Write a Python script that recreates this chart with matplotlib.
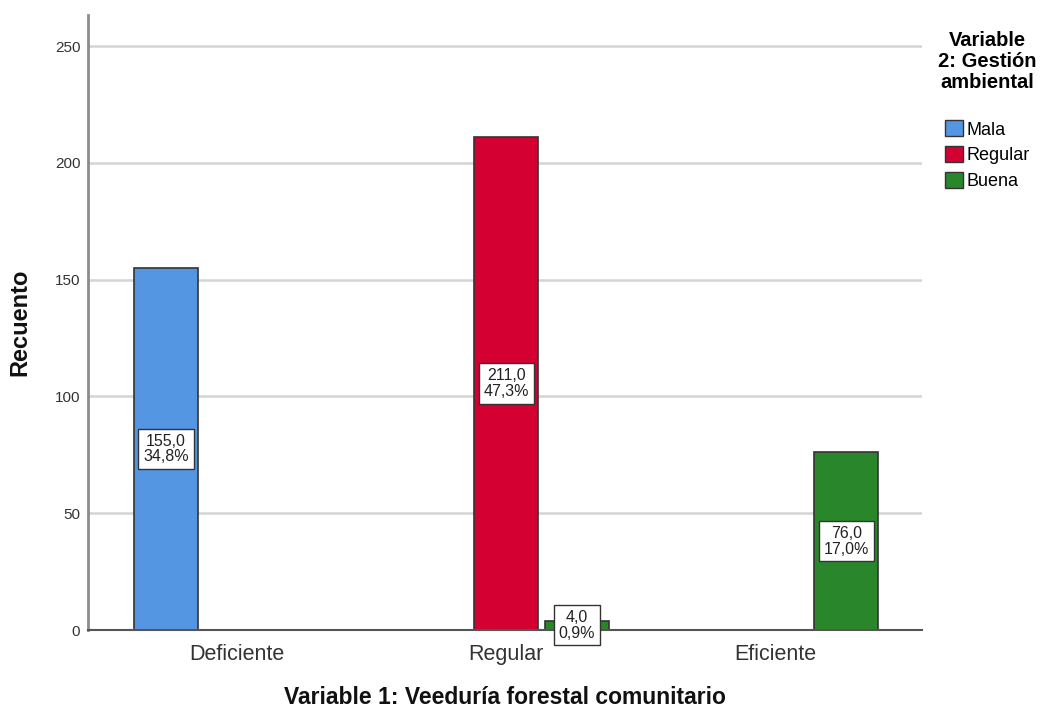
import matplotlib
matplotlib.use("Agg")
import matplotlib.pyplot as plt
import numpy as np

plt.rcParams['font.family'] = ['Liberation Sans', 'DejaVu Sans']

categories = ["Deficiente", "Regular", "Eficiente"]
series = ["Mala", "Regular", "Buena"]
mala = [155, 0, 0]
regular = [0, 211, 0]
buena = [0, 4, 76]
colors = ["#5596e3", "#d50032", "#2a862b"]
yticks = [0, 50, 100, 150, 200, 250]

values = [mala, regular, buena]
total = sum(sum(v) for v in values)

fig = plt.figure(figsize=(10.49, 7.15), dpi=100)
ax = fig.add_axes([88/1049, 85/715, (922-88)/1049, (630-15)/715])

x = np.arange(len(categories))
width = 0.238
offset = 0.264
handles = []
for j, (name, vals, col) in enumerate(zip(series, values, colors)):
    pos = x + (j - 1) * offset
    for p, v in zip(pos, vals):
        if v == 0:
            continue
        ax.bar(p, v, width=width, color=col, edgecolor="#333333", linewidth=1.2, zorder=3)
        pct = v / total * 100
        lbl = f"{v:.1f}".replace(".", ",") + "\n" + f"{pct:.1f}".replace(".", ",") + "%"
        ax.text(p, v / 2, lbl, ha="center", va="center", fontsize=11.5, color="#222222",
                linespacing=1.05, zorder=5,
                bbox=dict(boxstyle="square,pad=0.3", facecolor="white", edgecolor="#333333", linewidth=1.0))
    handles.append(plt.Rectangle((0, 0), 1, 1, facecolor=col, edgecolor="#333333", linewidth=1.0, label=name))

ax.set_xlim(-0.554, 2.546)
ax.set_ylim(0, 263.3)
ax.set_yticks(yticks)
ax.set_yticklabels([str(t) for t in yticks], fontsize=11, color="#333333")
ax.set_xticks(x)
ax.set_xticklabels(categories, fontsize=15.5, color="#333333")
ax.tick_params(axis="both", length=0)
ax.tick_params(axis="y", pad=5.5)
ax.tick_params(axis="x", pad=10)
ax.yaxis.grid(True, color="#d4d4d4", linewidth=1.8, zorder=0)
ax.set_axisbelow(True)
for s in ["top", "right"]:
    ax.spines[s].set_visible(False)
ax.spines["left"].set_color("#8c8c8c")
ax.spines["left"].set_linewidth(2)
ax.spines["bottom"].set_color("#555555")
ax.spines["bottom"].set_linewidth(1.5)
ax.spines["bottom"].set_zorder(4)

fig.text(20/1049, 1 - 322/715, "Recuento", rotation=90, fontsize=17, fontweight="bold",
         color="#111111", ha="center", va="center")
fig.text(505/1049, 1 - 697/715, "Variable 1: Veeduría forestal comunitario", fontsize=16.5,
         fontweight="bold", color="#111111", ha="center", va="center")

leg = fig.legend(handles=handles, loc="upper left", bbox_to_anchor=(938/1049, 1 - 31/715),
                 frameon=False, title="Variable\n2: Gestión\nambiental",
                 title_fontproperties={"weight": "bold", "size": 14.5},
                 fontsize=13, handlelength=1.0, handleheight=1.0, handletextpad=0.15,
                 labelspacing=0.42, alignment="center", borderaxespad=0, borderpad=0)
leg.get_title().set_multialignment("center")
leg.get_title().set_linespacing(1.15)
leg._legend_box.sep = 20

fig.savefig("out.png", dpi=100)
